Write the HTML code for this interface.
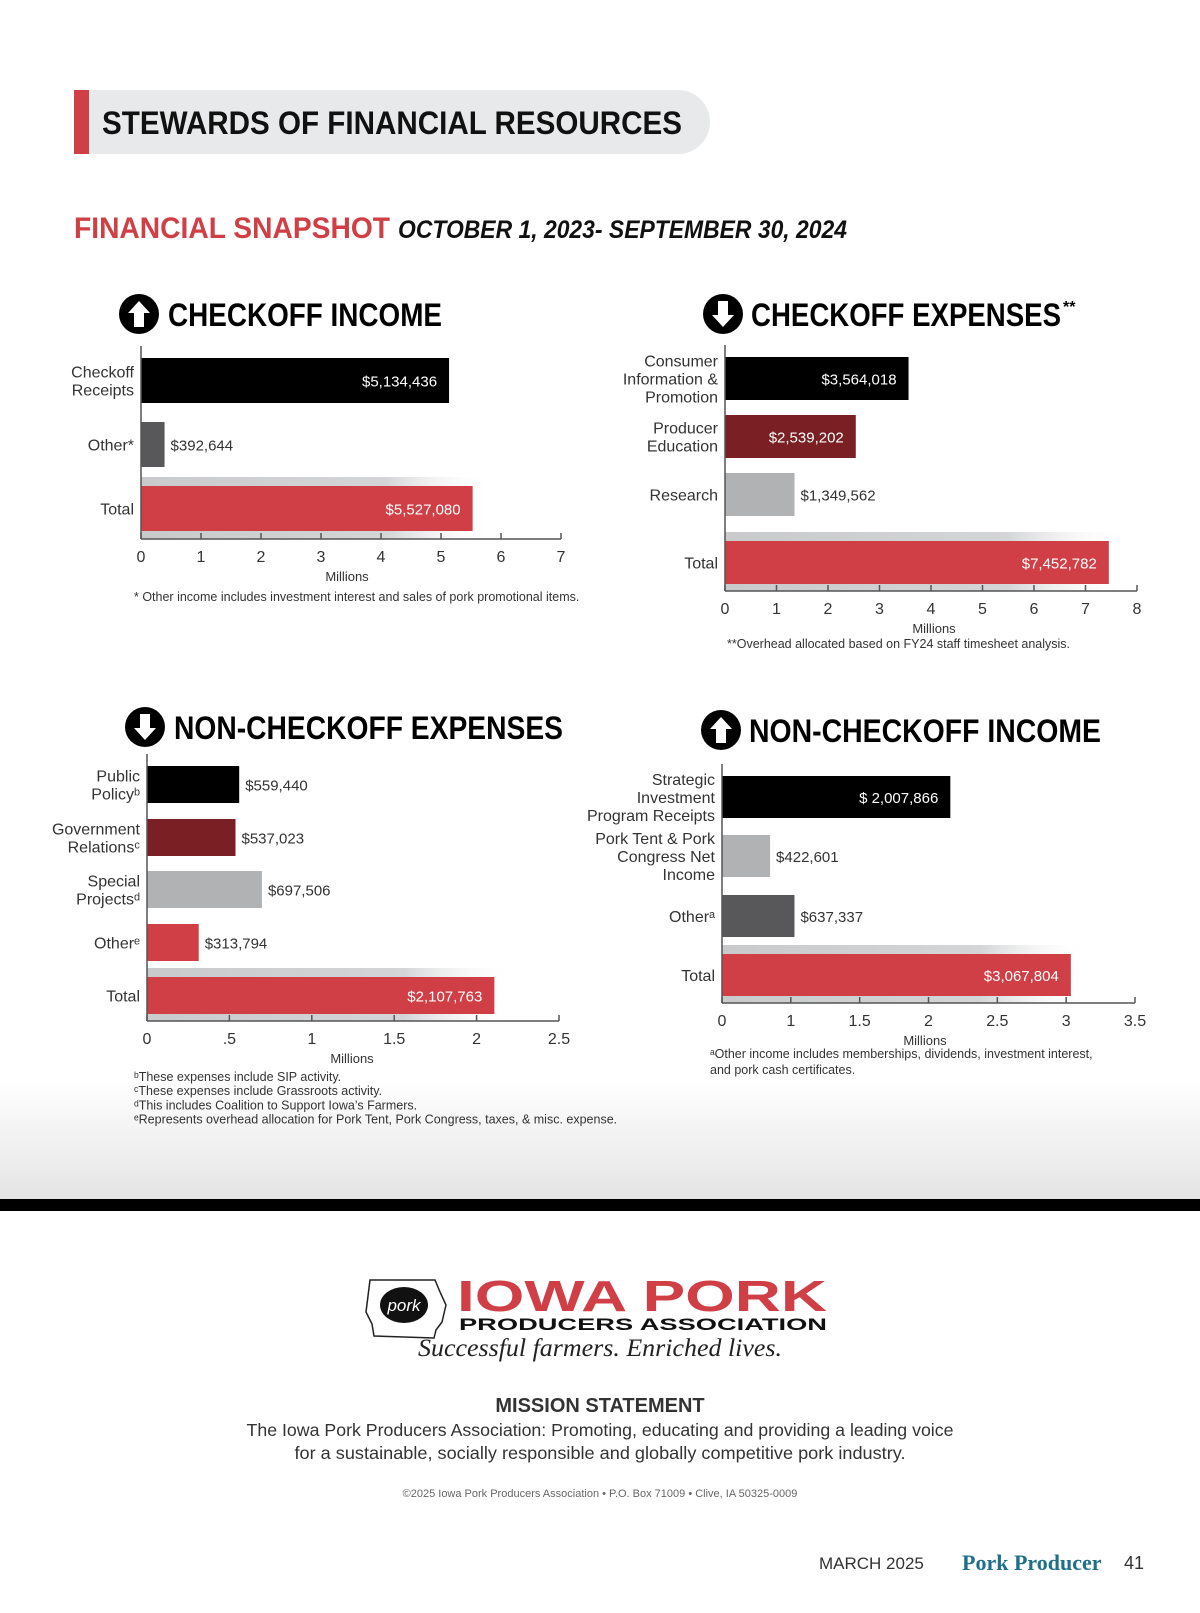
<!DOCTYPE html>
<html><head><meta charset="utf-8"><style>
body{margin:0;background:#fff;}
svg{display:block;font-family:"Liberation Sans",sans-serif;}
</style></head><body>
<svg id="page" width="1200" height="1613" viewBox="0 0 1200 1613" xmlns="http://www.w3.org/2000/svg">
<defs>
<linearGradient id="bottomFade" x1="0" y1="0" x2="0" y2="1"><stop offset="0" stop-color="#fff"/><stop offset="1" stop-color="#e4e4e4"/></linearGradient>
<linearGradient id="shadowFade" x1="0" y1="0" x2="1" y2="0"><stop offset="0" stop-color="#c9cacc"/><stop offset="0.7" stop-color="#d4d5d7"/><stop offset="1" stop-color="#fff" stop-opacity="0"/></linearGradient>
</defs>
<rect x="0" y="1080" width="1200" height="120" fill="url(#bottomFade)"/>
<rect x="0" y="1199" width="1200" height="12" fill="#000"/>
<g>
<path d="M74 90 H678 A32 32 0 0 1 678 154 H74 Z" fill="#e8e9ea"/>
<rect x="74" y="90" width="15" height="64" fill="#cf3f45"/>
<text x="102" y="134" font-size="32" font-weight="bold" fill="#111" textLength="580" lengthAdjust="spacingAndGlyphs">STEWARDS OF FINANCIAL RESOURCES</text>
</g>
<text x="74" y="238" font-size="30" font-weight="bold" fill="#cf3f45" textLength="316" lengthAdjust="spacingAndGlyphs">FINANCIAL SNAPSHOT</text>
<text x="398" y="238" font-size="25" font-weight="bold" font-style="italic" fill="#111" textLength="449" lengthAdjust="spacingAndGlyphs">OCTOBER 1, 2023- SEPTEMBER 30, 2024</text>
<g id="charts"></g>
<g>
<path d="M370 1280 L435 1280 L440 1292 L446 1305 L442 1322 L436 1330 L434 1338 L374 1336 L372 1324 L366 1312 Z" fill="#fff" stroke="#222" stroke-width="1.5"/>
<ellipse cx="404" cy="1305" rx="24" ry="18" fill="#111"/>
<text x="404" y="1311" font-size="17" font-style="italic" fill="#fff" text-anchor="middle">pork</text>
<text x="457" y="1311" font-size="44" font-weight="bold" fill="#cf3f45" textLength="370" lengthAdjust="spacingAndGlyphs">IOWA PORK</text>
<text x="459" y="1330" font-size="17" font-weight="bold" fill="#111" textLength="368" lengthAdjust="spacingAndGlyphs">PRODUCERS ASSOCIATION</text>
<text x="600" y="1356" font-size="25" font-style="italic" fill="#222" text-anchor="middle" font-family="Liberation Serif,serif" textLength="364" lengthAdjust="spacingAndGlyphs">Successful farmers. Enriched lives.</text>
</g>
<text x="600" y="1412" font-size="20" font-weight="bold" fill="#333" text-anchor="middle">MISSION STATEMENT</text>
<text x="600" y="1436" font-size="17.5" fill="#333" text-anchor="middle" textLength="707" lengthAdjust="spacingAndGlyphs">The Iowa Pork Producers Association: Promoting, educating and providing a leading voice</text>
<text x="600" y="1459" font-size="17.5" fill="#333" text-anchor="middle" textLength="611" lengthAdjust="spacingAndGlyphs">for a sustainable, socially responsible and globally competitive pork industry.</text>
<text x="600" y="1497" font-size="11" fill="#666" text-anchor="middle">©2025 Iowa Pork Producers Association  •  P.O. Box 71009  •  Clive, IA 50325-0009</text>
<text x="819" y="1569" font-size="17" fill="#333">MARCH 2025</text>
<text x="962" y="1570" font-size="22" font-weight="bold" fill="#1f6f8b" font-family="Liberation Serif,serif">Pork Producer</text>
<text x="1124" y="1569" font-size="18" fill="#333">41</text>
</svg>
<script>
// Chart 1: Checkoff income
const c1Categories = [["Checkoff","Receipts"],["Other*"],["Total"]];
const c1Values = [5.134436, 0.392644, 5.527080];
const c1Labels = ["$5,134,436","$392,644","$5,527,080"];
const c1Ticks = [0,1,2,3,4,5,6,7];
const c1TickLabels = ["0","1","2","3","4","5","6","7"];
// Chart 2: Checkoff expenses
const c2Categories = [["Consumer","Information &","Promotion"],["Producer","Education"],["Research"],["Total"]];
const c2Values = [3.564018, 2.539202, 1.349562, 7.452782];
const c2Labels = ["$3,564,018","$2,539,202","$1,349,562","$7,452,782"];
const c2Ticks = [0,1,2,3,4,5,6,7,8];
const c2TickLabels = ["0","1","2","3","4","5","6","7","8"];
// Chart 3: Non-checkoff expenses
const c3Categories = [["Public","Policyᵇ"],["Government","Relationsᶜ"],["Special","Projectsᵈ"],["Otherᵉ"],["Total"]];
const c3Values = [0.559440, 0.537023, 0.697506, 0.313794, 2.107763];
const c3Labels = ["$559,440","$537,023","$697,506","$313,794","$2,107,763"];
const c3Ticks = [0,0.5,1,1.5,2,2.5];
const c3TickLabels = ["0",".5","1","1.5","2","2.5"];
// Chart 4: Non-checkoff income
const c4Categories = [["Strategic","Investment","Program Receipts"],["Pork Tent & Pork","Congress Net","Income"],["Otherᵃ"],["Total"]];
const c4Values = [2.007866, 0.422601, 0.637337, 3.067804];
const c4Labels = ["$ 2,007,866","$422,601","$637,337","$3,067,804"];
const c4Ticks = [0,0.5,1,1.5,2,2.5,3];
const c4TickLabels = ["0","1","1.5","2","2.5","3","3.5"];

const NS="http://www.w3.org/2000/svg";
const root=document.getElementById('charts');
function mk(tag,attrs,parent,txt){const e=document.createElementNS(NS,tag);for(const k in attrs)e.setAttribute(k,attrs[k]);if(txt!==undefined)e.textContent=txt;parent.appendChild(e);return e;}

function chart(cfg){
  const g=mk('g',{},root);
  
  
  const tg=mk('g',{},g);
  
  
  mk('circle',{cx:cfg.icx,cy:cfg.ty-12,r:20,fill:'#000'},tg);
  const cy=cfg.ty-12, cx=cfg.icx;
  if(cfg.up) mk('path',{d:`M${cx} ${cy-13} L${cx+11} ${cy-1} L${cx+5} ${cy-1} L${cx+5} ${cy+13} L${cx-5} ${cy+13} L${cx-5} ${cy-1} L${cx-11} ${cy-1} Z`,fill:'#fff'},tg);
  else mk('path',{d:`M${cx} ${cy+13} L${cx+11} ${cy+1} L${cx+5} ${cy+1} L${cx+5} ${cy-13} L${cx-5} ${cy-13} L${cx-5} ${cy+1} L${cx-11} ${cy+1} Z`,fill:'#fff'},tg);
  mk('text',{x:cfg.tx,y:cfg.ty,'font-size':32,'font-weight':'bold',fill:'#000',textLength:cfg.tw,lengthAdjust:'spacingAndGlyphs'},tg,cfg.title);
  if(cfg.sup) mk('text',{x:cfg.tx+cfg.tw+2,y:cfg.ty-14,'font-size':16,'font-weight':'bold'},tg,cfg.sup);
  const bx1=cfg.bx1||cfg.x1;
  const x=v=>cfg.x0+(v-cfg.dmin)/(cfg.dmax-cfg.dmin)*(bx1-cfg.x0);
  const n=cfg.values.length;
  const last=cfg.tops[n-1];
  const sh=mk('rect',{x:cfg.x0,y:last-9,width:x(cfg.values[n-1])-cfg.x0+20,height:cfg.axisY-last+9,fill:'url(#shadowFade)'},g);
  
  
  cfg.values.forEach((v,i)=>{
    const w=x(v)-cfg.x0, y=cfg.tops[i], h=cfg.bh;
    const b=mk('rect',{x:cfg.x0,y:y,width:w,height:h,fill:cfg.colors[i]},g);
    
    
    const inside=w>120;
    const lbl=mk('text',{x:inside?x(v)-12:x(v)+6,y:y+h/2+6,'font-size':15,fill:inside?'#fff':'#333','text-anchor':inside?'end':'start'},g,cfg.labels[i]);
    
    
    const lines=cfg.cats[i];
    const lh=18, start=y+h/2+6-(lines.length-1)*lh/2;
    lines.forEach((t,j)=>{
      const c=mk('text',{x:cfg.x0-7,y:start+j*lh,'font-size':16,fill:'#333','text-anchor':'end'},g,t);
      
      
    });
  });
  const ya=mk('line',{x1:cfg.x0,y1:cfg.tops[0]-12,x2:cfg.x0,y2:cfg.axisY,stroke:'#555','stroke-width':1.5},g);
  
  
  const xa=mk('line',{x1:cfg.x0,y1:cfg.axisY,x2:cfg.x1,y2:cfg.axisY,stroke:'#555','stroke-width':1.5},g);
  
  
  cfg.ticks.forEach((t,i)=>{
    const px=cfg.x0+i/(cfg.ticks.length-1)*(cfg.x1-cfg.x0);
    mk('line',{x1:px,y1:cfg.axisY-6,x2:px,y2:cfg.axisY,stroke:'#555','stroke-width':1.5},g);
    const tl=mk('text',{x:px,y:cfg.axisY+23,'font-size':16,fill:'#333','text-anchor':'middle'},g,cfg.tickLabels[i]);
    
    
  });
  const mt=mk('text',{x:cfg.mx,y:cfg.axisY+42,'font-size':13,fill:'#333','text-anchor':'middle'},g,'Millions');
  
  
  cfg.notes.forEach((t,j)=>{
    const nt=mk('text',{x:cfg.nx,y:cfg.ny+j*cfg.nlh,'font-size':12.5,fill:'#333'},g,t);
    
    
  });
}
chart({name:'checkoff-income-chart',title:'CHECKOFF INCOME',up:true,icx:139,tx:168,ty:326,tw:274,
  cats:c1Categories,values:c1Values,labels:c1Labels,ticks:c1Ticks,tickLabels:c1TickLabels,
  x0:141,x1:561,dmin:0,dmax:7,axisY:539,tops:[358,422,486],bh:45,
  colors:['#000','#58585a','#cf3f45'],mx:347,nx:134,ny:601,nlh:14,
  notes:['* Other income includes investment interest and sales of pork promotional items.']});
chart({name:'checkoff-expenses-chart',title:'CHECKOFF EXPENSES',sup:'**',up:false,icx:723,tx:751,ty:326,tw:310,
  cats:c2Categories,values:c2Values,labels:c2Labels,ticks:c2Ticks,tickLabels:c2TickLabels,
  x0:725,x1:1137,dmin:0,dmax:8,axisY:591,tops:[357,415,473,541],bh:43,
  colors:['#000','#7a1f24','#b1b2b4','#cf3f45'],mx:934,nx:727,ny:648,nlh:14,
  notes:['**Overhead allocated based on FY24 staff timesheet analysis.']});
chart({name:'non-checkoff-expenses-chart',title:'NON-CHECKOFF EXPENSES',up:false,icx:145,tx:174,ty:739,tw:389,
  cats:c3Categories,values:c3Values,labels:c3Labels,ticks:c3Ticks,tickLabels:c3TickLabels,
  x0:147,x1:559,dmin:0,dmax:2.5,axisY:1021,tops:[766,819,871,924,977],bh:37,
  colors:['#000','#7a1f24','#b1b2b4','#cf3f45','#cf3f45'],mx:352,nx:134,ny:1081,nlh:14.2,
  notes:['ᵇThese expenses include SIP activity.','ᶜThese expenses include Grassroots activity.','ᵈThis includes Coalition to Support Iowa\u2019s Farmers.','ᵉRepresents overhead allocation for Pork Tent, Pork Congress, taxes, & misc. expense.']});
chart({name:'non-checkoff-income-chart',title:'NON-CHECKOFF INCOME',up:true,icx:721,tx:749,ty:742,tw:352,
  cats:c4Categories,values:c4Values,labels:c4Labels,ticks:c4Ticks,tickLabels:c4TickLabels,
  x0:722,x1:1135,bx1:1120,dmin:0,dmax:3.5,axisY:1003,tops:[776,835,895,954],bh:42,
  colors:['#000','#b1b2b4','#58585a','#cf3f45'],mx:925,nx:710,ny:1058,nlh:16,
  notes:['ᵃOther income includes memberships, dividends, investment interest,','  and pork cash certificates.']});
</script>
</body></html>
